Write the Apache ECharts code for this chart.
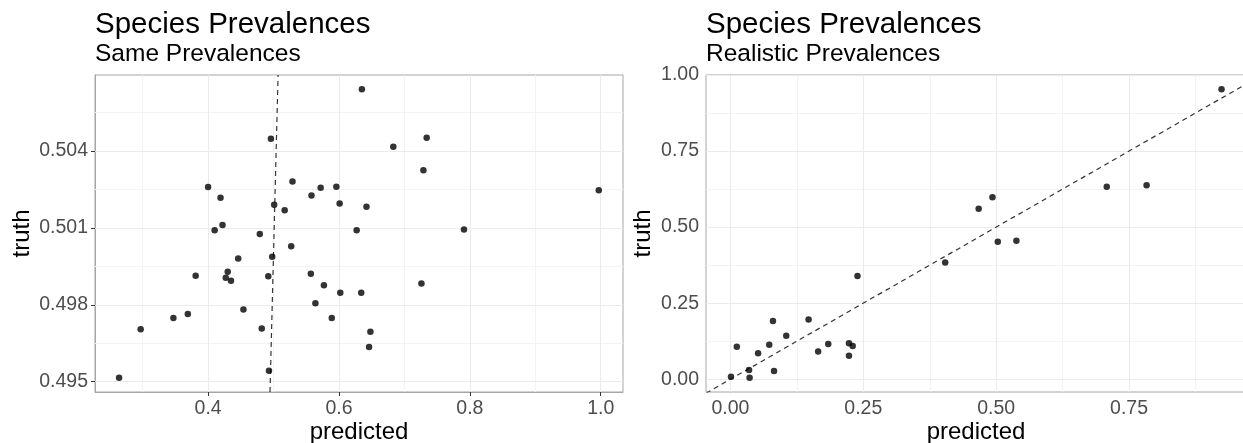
<!DOCTYPE html>
<html>
<head>
<meta charset="utf-8">
<script src="https://cdn.jsdelivr.net/npm/echarts@6/dist/echarts.min.js"></script>
<style>html,body{margin:0;padding:0;background:#fff}#c{width:1243px;height:443px}</style>
</head>
<body>
<div id="c"></div>
<script>
// ---- Data ----
const leftPredicted = [0.264,0.297,0.347,0.369,0.381,0.400,0.419,0.422,0.410,0.427,0.430,0.435,0.446,0.454,0.479,0.482,0.493,0.492,0.498,0.496,0.501,0.517,0.529,0.527,0.558,0.557,0.564,0.572,0.596,0.601,0.635,0.683,0.734,0.729,0.642,0.627,0.791,0.997,0.577,0.602,0.634,0.726,0.589,0.648,0.646];
const leftTruth = [0.49516,0.49705,0.49749,0.49764,0.49913,0.50259,0.50217,0.50111,0.50091,0.49905,0.49929,0.49894,0.49981,0.49782,0.50076,0.49708,0.49543,0.49911,0.49987,0.50447,0.50190,0.50169,0.50281,0.50028,0.50226,0.49921,0.49806,0.50256,0.50260,0.50195,0.50640,0.50416,0.50451,0.50325,0.50182,0.50091,0.50094,0.50247,0.49876,0.49847,0.49847,0.49883,0.49749,0.49695,0.49635];
const rightPredicted = [0.001,0.012,0.035,0.036,0.052,0.073,0.080,0.082,0.105,0.147,0.165,0.184,0.223,0.230,0.223,0.239,0.404,0.467,0.493,0.503,0.538,0.708,0.783,0.924];
const rightTruth = [0.008,0.107,0.030,0.005,0.085,0.113,0.191,0.027,0.143,0.196,0.091,0.116,0.118,0.109,0.077,0.339,0.384,0.560,0.598,0.452,0.455,0.633,0.638,0.953];

const leftXTicks = [0.4,0.6,0.8,1.0];
const leftXMinor = [0.3,0.5,0.7,0.9];
const leftYTicks = [0.495,0.498,0.501,0.504];
const leftYMinor = [0.4965,0.4995,0.5025,0.5055];
const rightXTicks = [0,0.25,0.5,0.75];
const rightXMinor = [0.125,0.375,0.625,0.875];
const rightYTicks = [0,0.25,0.5,0.75,1.0];
const rightYMinor = [0.125,0.375,0.625,0.875];

const leftXRange = [0.2272, 1.034];
const leftYRange = [0.4946, 0.50696];
const rightXRange = [-0.046, 0.970];
const rightYRange = [-0.042, 1.0];

const titles = ['Species Prevalences', 'Same Prevalences', 'Species Prevalences', 'Realistic Prevalences'];

// ---- Chart ----
const FONT = '"Liberation Sans", Arial, Helvetica, sans-serif';
const MAJOR = '#EBEBEB', MINOR = '#F3F3F3', BORDER = '#A6A6A6';
const chart = echarts.init(document.getElementById('c'), null, {renderer: 'canvas'});

function pairs(a, b) { return a.map((v, i) => [v, b[i]]); }

function makeAxis(name, idx, range, ticks, digits, gap, moveOverlap) {
  return {
    type: 'value', gridIndex: idx, min: range[0], max: range[1],
    name: name, nameLocation: 'middle', nameGap: gap, nameMoveOverlap: moveOverlap,
    nameTextStyle: {fontFamily: FONT, fontSize: 24, color: '#000'},
    axisLine: {show: true, lineStyle: {color: BORDER, width: 1}},
    axisTick: {show: true, customValues: ticks, length: 4, lineStyle: {color: '#333', width: 1}},
    axisLabel: {customValues: ticks, margin: 7, fontFamily: FONT, fontSize: 19.5, color: '#4D4D4D',
      formatter: v => Number(v).toFixed(digits)},
    splitLine: {show: false}
  };
}
function gridLines(xMaj, xMin, yMaj, yMin) {
  const d = [];
  xMin.forEach(v => d.push({xAxis: v, lineStyle: {color: MINOR, width: 1, type: 'solid'}}));
  yMin.forEach(v => d.push({yAxis: v, lineStyle: {color: MINOR, width: 1, type: 'solid'}}));
  xMaj.forEach(v => d.push({xAxis: v, lineStyle: {color: MAJOR, width: 1, type: 'solid'}}));
  yMaj.forEach(v => d.push({yAxis: v, lineStyle: {color: MAJOR, width: 1, type: 'solid'}}));
  return {silent: true, symbol: ['none', 'none'], precision: 8, label: {show: false}, z: 1, animation: false,
    emphasis: {disabled: true}, data: d};
}

const titleStyle = (size) => ({fontFamily: FONT, fontSize: size, fontWeight: 'normal', color: '#000'});

const option = {
  animation: false,
  backgroundColor: '#fff',
  title: [
    {text: titles[0], left: 95, top: 10, padding: 0, textStyle: titleStyle(29.5)},
    {text: titles[1], left: 95, top: 42, padding: 0, textStyle: titleStyle(24.5)},
    {text: titles[2], left: 706, top: 10, padding: 0, textStyle: titleStyle(29.5)},
    {text: titles[3], left: 706, top: 42, padding: 0, textStyle: titleStyle(24.5)}
  ],
  grid: [
    {left: 95, right: 620, top: 75, bottom: 51, show: true, borderColor: BORDER, borderWidth: 1, backgroundColor: 'transparent', containLabel: false, outerBoundsMode: 'none'},
    {left: 706, right: -3, top: 75, bottom: 51, show: true, borderColor: BORDER, borderWidth: 1, backgroundColor: 'transparent', containLabel: false, outerBoundsMode: 'none'}
  ],
  xAxis: [
    makeAxis('predicted', 0, leftXRange, leftXTicks, 1, 28, false),
    makeAxis('predicted', 1, rightXRange, rightXTicks, 2, 28, false)
  ],
  yAxis: [
    makeAxis('truth', 0, leftYRange, leftYTicks, 3, 61, true),
    makeAxis('truth', 1, rightYRange, rightYTicks, 2, 51, true)
  ],
  series: [
    {
      type: 'line', xAxisIndex: 0, yAxisIndex: 0, z: 2, silent: true, showSymbol: false, clip: true,
      data: [[leftYRange[0], leftYRange[0]], [leftYRange[1], leftYRange[1]]],
      lineStyle: {color: '#333', width: 1.2, type: [5, 4]},
      markLine: gridLines(leftXTicks, leftXMinor, leftYTicks, leftYMinor)
    },
    {
      type: 'line', xAxisIndex: 1, yAxisIndex: 1, z: 2, silent: true, showSymbol: false, clip: true,
      data: [[rightXRange[0], rightXRange[0]], [rightYRange[1], rightYRange[1]]],
      lineStyle: {color: '#333', width: 1.2, type: [5, 4]},
      markLine: gridLines(rightXTicks, rightXMinor, rightYTicks, rightYMinor)
    },
    {
      type: 'scatter', xAxisIndex: 0, yAxisIndex: 0, z: 3, symbolSize: 6.5,
      itemStyle: {color: '#000'}, data: pairs(leftPredicted, leftTruth)
    },
    {
      type: 'scatter', xAxisIndex: 1, yAxisIndex: 1, z: 3, symbolSize: 6.5,
      itemStyle: {color: '#000'}, data: pairs(rightPredicted, rightTruth)
    }
  ]
};
chart.setOption(option);
</script>
</body>
</html>
